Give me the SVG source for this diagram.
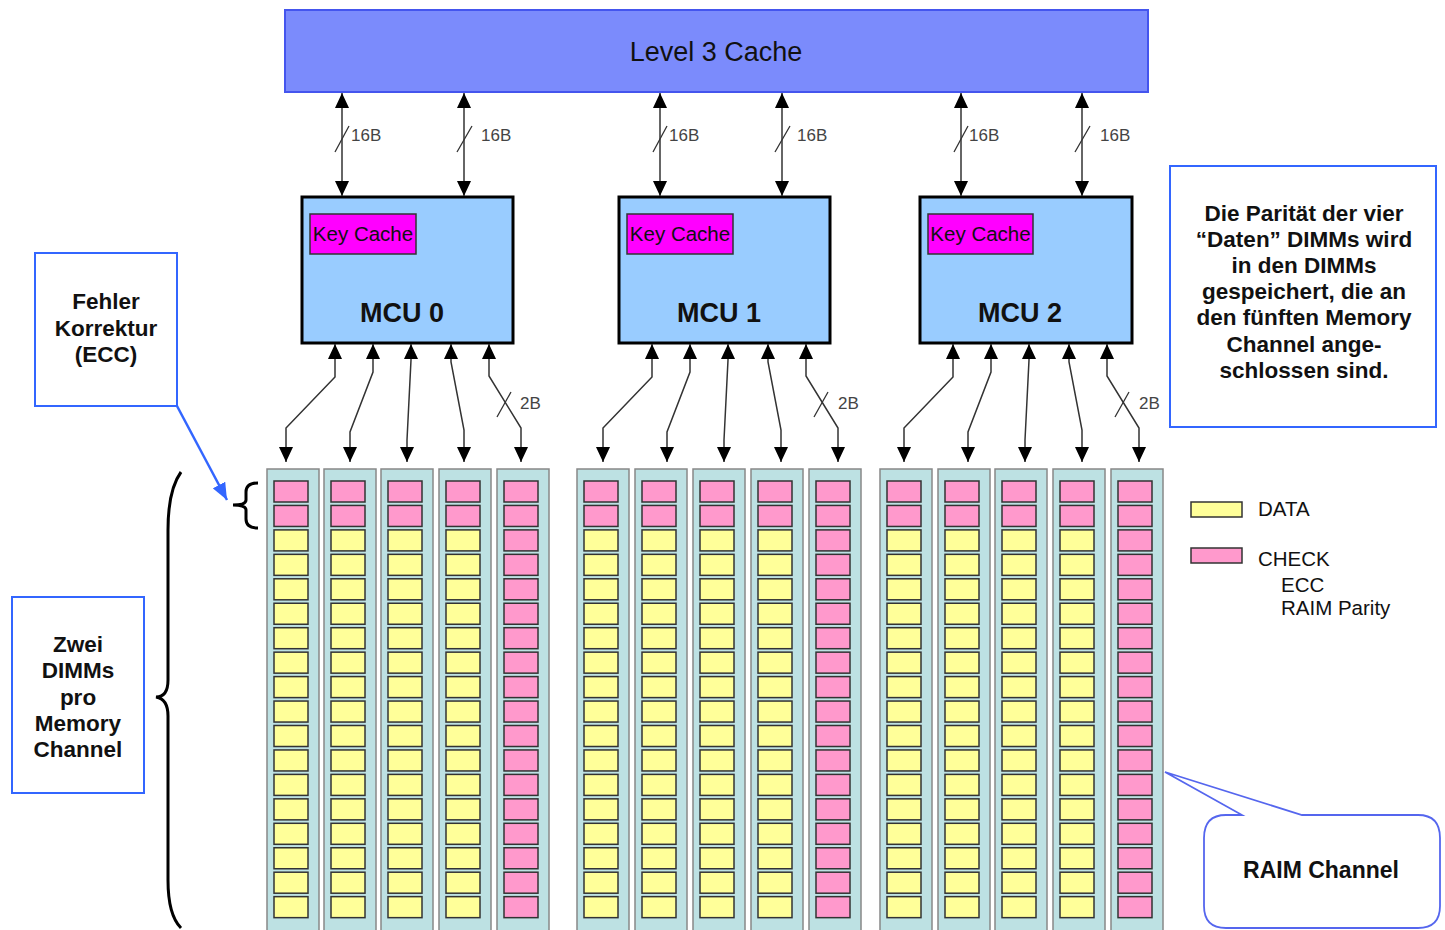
<svg xmlns="http://www.w3.org/2000/svg" xmlns:xlink="http://www.w3.org/1999/xlink" width="1445" height="930" viewBox="0 0 1445 930">
<style>
.cache{fill:#7b8bfc;stroke:#4455ee;stroke-width:2}
.mcu{fill:#99ccff;stroke:#000;stroke-width:3}
.kc{fill:#ff00ff;stroke:#333;stroke-width:1.5}
.col{fill:#bde1e3;stroke:#888;stroke-width:1.5}
.p{fill:#ff99cc;stroke:#333;stroke-width:1.5}
.y{fill:#ffff99;stroke:#333;stroke-width:1.5}
.box{fill:#fff;stroke:#3366ff;stroke-width:2}
.conn{fill:none;stroke:#333;stroke-width:1.5}
.slash{fill:none;stroke:#333;stroke-width:1.3}
.t{font-family:"Liberation Sans",Arial,sans-serif;fill:#111}
.b{font-weight:bold}
.lbl{font-family:"Liberation Sans",Arial,sans-serif;font-size:17px;fill:#444}
.brace{fill:none;stroke:#000;stroke-width:3}
</style>
<defs>
<marker id="ah" viewBox="0 0 15 14" refX="15" refY="7" markerWidth="15" markerHeight="14" markerUnits="userSpaceOnUse" orient="auto-start-reverse"><path d="M0,0 L15,7 L0,14 z" fill="#000"/></marker>
<marker id="bh" viewBox="0 0 17 14" refX="17" refY="7" markerWidth="17" markerHeight="14" markerUnits="userSpaceOnUse" orient="auto"><path d="M0,0 L17,7 L0,14 z" fill="#3366ff"/></marker>
<g id="dimmData">
<rect class="col" x="0" y="0" width="52" height="462"/>
<rect class="p" x="7" y="12" width="34" height="21"/>
<rect class="p" x="7" y="36.45" width="34" height="21"/>
<rect class="y" x="7" y="60.9" width="34" height="21"/>
<rect class="y" x="7" y="85.35" width="34" height="21"/>
<rect class="y" x="7" y="109.8" width="34" height="21"/>
<rect class="y" x="7" y="134.25" width="34" height="21"/>
<rect class="y" x="7" y="158.7" width="34" height="21"/>
<rect class="y" x="7" y="183.15" width="34" height="21"/>
<rect class="y" x="7" y="207.6" width="34" height="21"/>
<rect class="y" x="7" y="232.05" width="34" height="21"/>
<rect class="y" x="7" y="256.5" width="34" height="21"/>
<rect class="y" x="7" y="280.95" width="34" height="21"/>
<rect class="y" x="7" y="305.4" width="34" height="21"/>
<rect class="y" x="7" y="329.85" width="34" height="21"/>
<rect class="y" x="7" y="354.3" width="34" height="21"/>
<rect class="y" x="7" y="378.75" width="34" height="21"/>
<rect class="y" x="7" y="403.2" width="34" height="21"/>
<rect class="y" x="7" y="427.65" width="34" height="21"/>
</g>
<g id="dimmParity">
<rect class="col" x="0" y="0" width="52" height="462"/>
<rect class="p" x="7" y="12" width="34" height="21"/>
<rect class="p" x="7" y="36.45" width="34" height="21"/>
<rect class="p" x="7" y="60.9" width="34" height="21"/>
<rect class="p" x="7" y="85.35" width="34" height="21"/>
<rect class="p" x="7" y="109.8" width="34" height="21"/>
<rect class="p" x="7" y="134.25" width="34" height="21"/>
<rect class="p" x="7" y="158.7" width="34" height="21"/>
<rect class="p" x="7" y="183.15" width="34" height="21"/>
<rect class="p" x="7" y="207.6" width="34" height="21"/>
<rect class="p" x="7" y="232.05" width="34" height="21"/>
<rect class="p" x="7" y="256.5" width="34" height="21"/>
<rect class="p" x="7" y="280.95" width="34" height="21"/>
<rect class="p" x="7" y="305.4" width="34" height="21"/>
<rect class="p" x="7" y="329.85" width="34" height="21"/>
<rect class="p" x="7" y="354.3" width="34" height="21"/>
<rect class="p" x="7" y="378.75" width="34" height="21"/>
<rect class="p" x="7" y="403.2" width="34" height="21"/>
<rect class="p" x="7" y="427.65" width="34" height="21"/>
</g>
</defs>
<rect width="1445" height="930" fill="#fff"/>

<g id="l3cache">
<rect class="cache" x="285" y="10" width="863" height="82"/>
<text class="t" x="716" y="61" font-size="27" text-anchor="middle" fill="#222">Level 3 Cache</text>
</g>

<g id="mcu0">
<rect class="mcu" x="302" y="197" width="211" height="146"/>
<rect class="kc" x="310" y="214" width="106" height="40"/>
<text class="t" x="363" y="241" font-size="20.5" text-anchor="middle">Key Cache</text>
<text class="t b" x="402" y="322" font-size="27" text-anchor="middle">MCU 0</text>
</g>
<g id="mcu1">
<rect class="mcu" x="619" y="197" width="211" height="146"/>
<rect class="kc" x="627" y="214" width="106" height="40"/>
<text class="t" x="680" y="241" font-size="20.5" text-anchor="middle">Key Cache</text>
<text class="t b" x="719" y="322" font-size="27" text-anchor="middle">MCU 1</text>
</g>
<g id="mcu2">
<rect class="mcu" x="920" y="197" width="212" height="146"/>
<rect class="kc" x="928" y="214" width="105" height="40"/>
<text class="t" x="980.5" y="241" font-size="20.5" text-anchor="middle">Key Cache</text>
<text class="t b" x="1020" y="322" font-size="27" text-anchor="middle">MCU 2</text>
</g>

<g id="dimms-mcu0">
<g id="dimm0-0"><use xlink:href="#dimmData" x="267" y="469"/></g>
<g id="dimm0-1"><use xlink:href="#dimmData" x="324" y="469"/></g>
<g id="dimm0-2"><use xlink:href="#dimmData" x="381" y="469"/></g>
<g id="dimm0-3"><use xlink:href="#dimmData" x="439" y="469"/></g>
<g id="dimm0-4"><use xlink:href="#dimmParity" x="497" y="469"/></g>
</g>
<g id="dimms-mcu1">
<g id="dimm1-0"><use xlink:href="#dimmData" x="577" y="469"/></g>
<g id="dimm1-1"><use xlink:href="#dimmData" x="635" y="469"/></g>
<g id="dimm1-2"><use xlink:href="#dimmData" x="693" y="469"/></g>
<g id="dimm1-3"><use xlink:href="#dimmData" x="751" y="469"/></g>
<g id="dimm1-4"><use xlink:href="#dimmParity" x="809" y="469"/></g>
</g>
<g id="dimms-mcu2">
<g id="dimm2-0"><use xlink:href="#dimmData" x="880" y="469"/></g>
<g id="dimm2-1"><use xlink:href="#dimmData" x="938" y="469"/></g>
<g id="dimm2-2"><use xlink:href="#dimmData" x="995" y="469"/></g>
<g id="dimm2-3"><use xlink:href="#dimmData" x="1053" y="469"/></g>
<g id="dimm2-4"><use xlink:href="#dimmParity" x="1111" y="469"/></g>
</g>

<g id="connectors">
<g id="l3-links" class="conn" marker-start="url(#ah)" marker-end="url(#ah)">
<line x1="342" y1="93" x2="342" y2="196"/>
<line x1="464" y1="93" x2="464" y2="196"/>
<line x1="660" y1="93" x2="660" y2="196"/>
<line x1="782" y1="93" x2="782" y2="196"/>
<line x1="961" y1="93" x2="961" y2="196"/>
<line x1="1082" y1="93" x2="1082" y2="196"/>
</g>
<g class="slash">
<path d="M335,152 L349,126 M457,152 L472,126 M653,152 L667,126 M775,152 L790,126 M954,152 L968,126 M1075,152 L1090,126"/>
</g>
<text class="lbl" x="351" y="141">16B</text>
<text class="lbl" x="481" y="141">16B</text>
<text class="lbl" x="669" y="141">16B</text>
<text class="lbl" x="797" y="141">16B</text>
<text class="lbl" x="969" y="141">16B</text>
<text class="lbl" x="1100" y="141">16B</text>

<g id="mcu0-links" class="conn" marker-start="url(#ah)" marker-end="url(#ah)">
<path d="M335,344 V377 L286,428 V462"/>
<path d="M373,344 V372 L350,432 V462"/>
<path d="M411,344 V360 L407,440 V462"/>
<path d="M451,344 V362 L464,430 V462"/>
<path d="M489,344 V376 L521,428 V462"/>
</g>
<g id="mcu1-links" class="conn" marker-start="url(#ah)" marker-end="url(#ah)">
<path d="M652,344 V377 L603,428 V462"/>
<path d="M690,344 V372 L667,432 V462"/>
<path d="M728,344 V360 L724,440 V462"/>
<path d="M768,344 V362 L781,430 V462"/>
<path d="M806,344 V376 L838,428 V462"/>
</g>
<g id="mcu2-links" class="conn" marker-start="url(#ah)" marker-end="url(#ah)">
<path d="M953,344 V377 L904,428 V462"/>
<path d="M991,344 V372 L968,432 V462"/>
<path d="M1029,344 V360 L1025,440 V462"/>
<path d="M1069,344 V362 L1082,430 V462"/>
<path d="M1107,344 V376 L1139,428 V462"/>
</g>
<path class="slash" d="M497,417 L511,392 M814,417 L828,392 M1115,417 L1129,392"/>
<text class="lbl" x="520" y="409">2B</text>
<text class="lbl" x="838" y="409">2B</text>
<text class="lbl" x="1139" y="409">2B</text>

<line x1="177" y1="406" x2="227" y2="500" stroke="#3366ff" stroke-width="2.5" marker-end="url(#bh)"/>
</g>

<g id="braces">
<path class="brace" d="M258,483 Q246,483 246,492 V500 Q246,505 233,505 Q246,505 246,510 V519 Q246,528 258,528"/>
<path class="brace" d="M181,472 Q168,490 168,530 V680 Q168,697 156,697 Q168,699 168,716 V880 Q168,915 181,928"/>
</g>

<g id="fehler">
<rect class="box" x="35" y="253" width="142" height="153"/>
<text class="t b" font-size="22.5" text-anchor="middle"><tspan x="106" y="309">Fehler</tspan><tspan x="106" y="336">Korrektur</tspan><tspan x="106" y="362">(ECC)</tspan></text>
</g>

<g id="zwei">
<rect class="box" x="12" y="597" width="132" height="196"/>
<text class="t b" font-size="22.5" text-anchor="middle"><tspan x="78" y="652">Zwei</tspan><tspan x="78" y="678">DIMMs</tspan><tspan x="78" y="705">pro</tspan><tspan x="78" y="731">Memory</tspan><tspan x="78" y="757">Channel</tspan></text>
</g>

<g id="paritaet">
<rect class="box" x="1170" y="166" width="266" height="261"/>
<text class="t b" font-size="22.5" text-anchor="middle"><tspan x="1304" y="221">Die Parität der vier</tspan><tspan x="1304" y="247">“Daten” DIMMs wird</tspan><tspan x="1304" y="273">in den DIMMs</tspan><tspan x="1304" y="299">gespeichert, die an</tspan><tspan x="1304" y="325">den fünften Memory</tspan><tspan x="1304" y="352">Channel ange-</tspan><tspan x="1304" y="378">schlossen sind.</tspan></text>
</g>

<g id="legend">
<rect class="y" x="1191" y="502" width="51" height="15"/>
<text class="t" x="1258" y="516" font-size="20.5">DATA</text>
<rect class="p" x="1191" y="548" width="51" height="15"/>
<text class="t" x="1258" y="566" font-size="20.5">CHECK</text>
<text class="t" x="1281" y="592" font-size="20.5">ECC</text>
<text class="t" x="1281" y="615" font-size="20.5">RAIM Parity</text>
</g>

<g id="raim">
<path d="M1165,772 L1302,815 H1418 Q1440,815 1440,838 V906 Q1440,928 1418,928 H1226 Q1204,928 1204,906 V838 Q1204,815 1226,815 H1242 Z" fill="#fff" stroke="#5566ee" stroke-width="1.8"/>
<text class="t b" x="1321" y="878" font-size="23" text-anchor="middle">RAIM Channel</text>
</g>
</svg>
